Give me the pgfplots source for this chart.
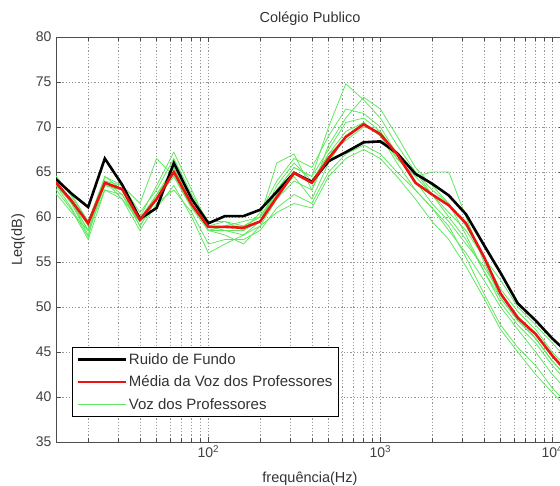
\documentclass[border=0pt]{standalone}
\usepackage{pgfplots}
\pgfplotsset{compat=1.18}
\usepackage{pgfplotstable}
\usepackage{fontspec}
\setmainfont{Liberation Sans}

% Third-octave band levels (dB): background noise, mean teacher voice, individual voices
\pgfplotstableread{
f      ruido media g1   g2   g3   g4   g5   g6   g7   g8   g9
12.5   64.5  64.2  65.0 64.5 63.5 64.0 64.5 63.0 64.5 64.0 64.0
16     62.6  61.8  62.3 61.5 60.8 62.0 62.5 60.5 61.8 61.0 61.5
20     61.1  59.3  59.5 58.0 57.5 59.0 59.5 58.5 58.5 57.8 58.5
25     66.5  63.8  64.5 64.0 63.0 63.5 64.0 63.0 63.5 64.5 64.0
31.5   63.6  63.1  63.5 62.5 62.0 63.0 63.5 62.5 63.0 63.0 62.0
40     59.8  59.7  60.5 59.0 58.5 60.0 61.5 59.5 59.8 59.0 59.5
50     61.0  62.0  63.0 62.0 61.5 63.5 66.5 61.0 62.5 62.0 62.5
63     66.0  65.0  66.5 65.5 63.0 67.2 64.5 63.5 65.0 64.5 65.5
80     62.0  61.4  62.5 61.5 60.5 63.0 61.0 60.0 61.5 61.0 61.5
100    59.3  58.9  59.5 58.5 57.0 59.0 58.5 56.0 58.5 59.0 58.5
125    60.1  58.9  59.5 58.0 57.5 58.5 59.0 57.0 58.5 59.5 59.0
160    60.1  58.8  59.0 57.0 57.5 58.5 59.5 58.0 58.0 58.5 59.0
200    60.8  59.5  60.0 59.0 58.5 60.5 60.0 59.0 59.5 59.5 60.0
250    62.8  62.2  63.0 62.0 61.0 64.0 62.5 60.5 63.0 63.5 66.0
315    64.9  64.9  65.5 64.0 62.5 66.5 64.5 61.5 65.5 66.0 67.0
400    63.9  63.8  64.5 63.0 61.5 65.5 62.0 61.0 64.5 64.0 63.0
500    66.2  66.5  70.0 68.0 65.0 69.0 66.0 64.5 67.5 67.0 67.0
630    67.2  68.9  74.8 71.0 67.0 72.0 69.0 66.5 70.5 69.5 68.5
800    68.3  70.3  73.0 73.3 68.0 71.5 70.5 67.5 71.0 70.5 70.0
1000   68.4  69.2  71.0 72.0 67.0 70.0 69.0 66.5 69.5 69.0 69.5
1250   67.1  67.0  68.0 69.0 65.0 67.0 66.0 64.5 66.5 66.5 67.0
1600   64.8  63.8  65.0 65.5 63.0 64.0 63.0 62.0 64.5 64.5 65.0
2000   63.7  62.5  63.0 63.5 61.0 61.5 61.0 59.5 62.5 65.0 62.5
2500   62.4  61.3  61.5 61.5 59.0 59.5 58.5 57.5 60.5 65.0 60.0
3150   60.3  59.3  59.0 58.0 55.5 57.0 56.0 54.5 58.5 60.0 57.5
4000   56.9  55.6  55.5 54.0 51.5 54.5 53.0 51.0 55.5 55.0 54.0
5000   53.8  51.5  52.0 50.5 48.0 51.5 50.0 47.5 53.0 51.0 51.0
6300   50.4  48.8  49.5 48.0 45.5 49.0 47.5 45.0 50.0 48.5 48.5
8000   48.5  47.0  47.5 46.0 43.5 46.5 45.0 42.5 48.0 46.5 46.5
10000  46.5  44.6  45.0 43.5 41.0 44.0 42.5 40.5 46.0 44.0 44.0
12500  44.8  42.5  43.0 41.5 39.0 42.0 40.5 38.5 44.0 42.0 42.0
}\spectra

\definecolor{voz}{RGB}{95,232,95}
\definecolor{media}{RGB}{235,20,20}
\definecolor{gridc}{RGB}{150,150,150}

\begin{document}
\begin{tikzpicture}
\path[use as bounding box] (0pt,0pt) rectangle (560pt,486pt);
\clip (0pt,0pt) rectangle (560pt,486pt);
\begin{axis}[
  at={(56pt,44pt)}, anchor=south west,
  width=508pt, height=405pt, scale only axis,
  xmode=log, log basis x=10,
  xmin=13, xmax=11700, ymin=35, ymax=80,
  ytick={35,40,...,80},
  xtick={100,1000,10000},
  xticklabels={10\textsuperscript{2},10\textsuperscript{3},10\textsuperscript{4}},
  minor xtick={20,30,40,50,60,70,80,90,200,300,400,500,600,700,800,900,2000,3000,4000,5000,6000,7000,8000,9000},
  grid=both,
  major grid style={gridc, line width=0.5pt, dash pattern=on 1.2pt off 2pt},
  minor grid style={gridc, line width=0.5pt, dash pattern=on 1.2pt off 2pt},
  tick align=inside, tick pos=both,
  major tick length=5pt, minor tick length=4pt,
  axis line style={black!70, line width=0.8pt},
  every tick/.style={black!70, line width=0.5pt},
  /pgf/number format/assume math mode=true,
  ticklabel style={font=\fontsize{14}{16}\selectfont, text=black!75},
  yticklabel style={xshift=-1pt},
  title={Colégio Publico},
  title style={at={(axis description cs:0.5,1.022)}, anchor=base, font=\fontsize{14.5}{16}\selectfont, text=black!80},
  xlabel={frequência(Hz)},
  xlabel style={at={(axis description cs:0.5,-0.100)}, anchor=base, font=\fontsize{14.5}{16}\selectfont, text=black!80},
  ylabel={Leq(dB)},
  ylabel style={at={(axis description cs:-0.067,0.5)}, anchor=base, font=\fontsize{14.5}{16}\selectfont, text=black!80},
  legend style={at={(axis description cs:0.0315,0.062)}, anchor=south west,
    draw=black, line width=0.7pt, fill=white,
    font=\fontsize{15}{17}\selectfont, text=black!80,
    inner xsep=4pt, inner ysep=4pt, row sep=6pt},
  legend cell align=left,
  legend image code/.code={\draw[#1] (0pt,0pt) -- (48pt,0pt);},
]
\foreach \g in {g1,g2,g3,g4,g5,g6,g7,g8,g9} {
  \addplot[voz, line width=0.8pt, forget plot] table[x=f, y=\g] {\spectra};
}
\addplot[black, line width=2.6pt] table[x=f, y=ruido] {\spectra};
\addlegendentry{Ruido de Fundo}
\addplot[media, line width=2.6pt] table[x=f, y=media] {\spectra};
\addlegendentry{Média da Voz dos Professores}
\addlegendimage{voz, line width=0.8pt}
\addlegendentry{Voz dos Professores}
\end{axis}
\end{tikzpicture}
\end{document}
